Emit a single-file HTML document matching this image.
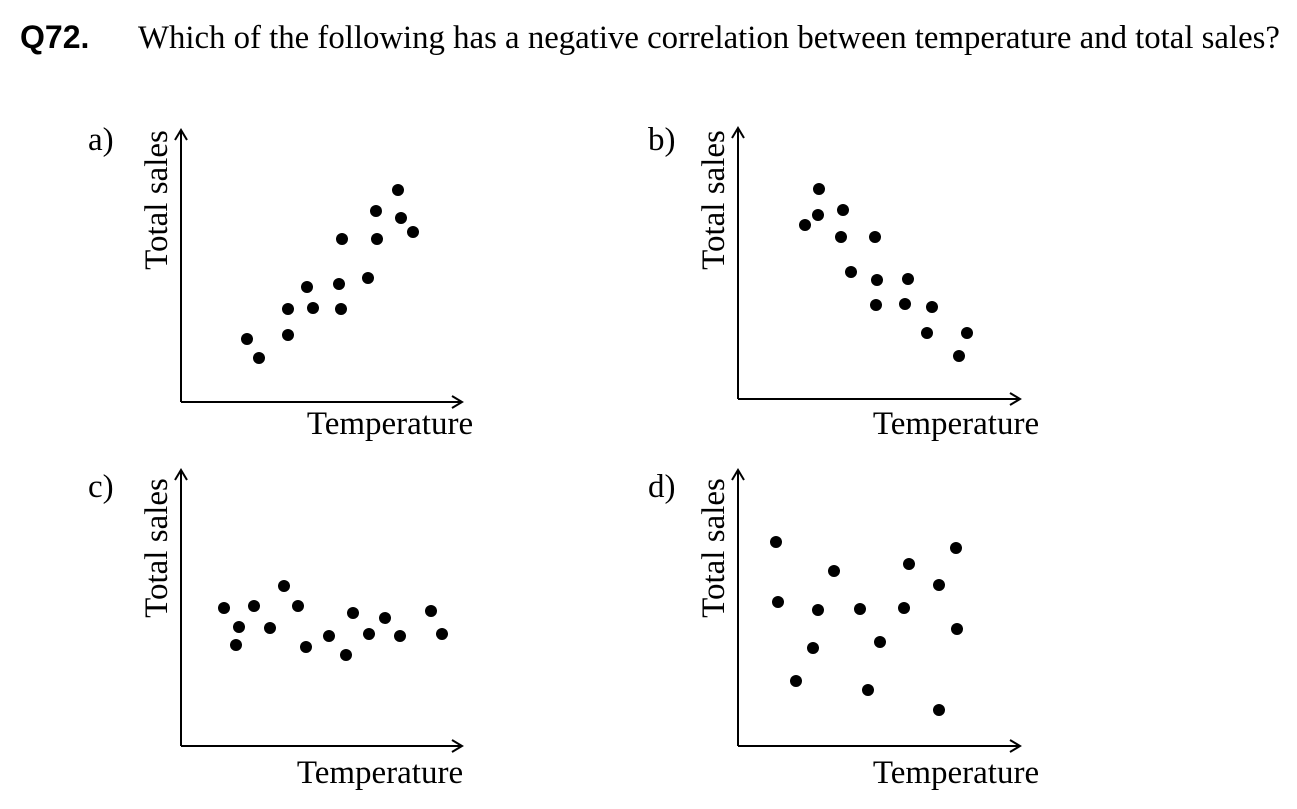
<!DOCTYPE html>
<html><head><style>
html,body{margin:0;padding:0;background:#fff;}
svg{display:block}
</style></head><body>
<svg width="1297" height="809" xmlns="http://www.w3.org/2000/svg">
<defs>
<marker id="ar" markerWidth="14" markerHeight="14" refX="12" refY="7" orient="auto" markerUnits="userSpaceOnUse">
<path d="M2,1 L12,7 L2,13" fill="none" stroke="#000" stroke-width="2"/>
</marker>
</defs>
<text x="20" y="48" font-family="Liberation Sans, sans-serif" font-weight="bold" font-size="32">Q72.</text>
<text x="138" y="48" font-family="Liberation Serif, serif" font-size="32.8">Which of the following has a negative correlation between temperature and total sales?</text>

<g font-family="Liberation Serif, serif" font-size="33" fill="#000">
<text x="88" y="150">a)</text>
<text transform="translate(167,200) rotate(-90)" text-anchor="middle">Total sales</text>
<text x="390" y="434" text-anchor="middle">Temperature</text>
<text x="648" y="150">b)</text>
<text transform="translate(724,200) rotate(-90)" text-anchor="middle">Total sales</text>
<text x="956" y="434" text-anchor="middle">Temperature</text>
<text x="88" y="497">c)</text>
<text transform="translate(167,548) rotate(-90)" text-anchor="middle">Total sales</text>
<text x="380" y="783" text-anchor="middle">Temperature</text>
<text x="648" y="497">d)</text>
<text transform="translate(724,548) rotate(-90)" text-anchor="middle">Total sales</text>
<text x="956" y="783" text-anchor="middle">Temperature</text>
</g>

<g stroke="#000" stroke-width="2" fill="none">
<path d="M181,402 L181,130" marker-end="url(#ar)"/><path d="M181,402 L462,402" marker-end="url(#ar)"/>
<path d="M738,399 L738,128" marker-end="url(#ar)"/><path d="M738,399 L1020,399" marker-end="url(#ar)"/>
<path d="M181,746 L181,470" marker-end="url(#ar)"/><path d="M181,746 L462,746" marker-end="url(#ar)"/>
<path d="M738,746 L738,470" marker-end="url(#ar)"/><path d="M738,746 L1020,746" marker-end="url(#ar)"/>
</g>

<g fill="#000">
<circle cx="247" cy="339" r="6"/><circle cx="259" cy="358" r="6"/><circle cx="288" cy="309" r="6"/><circle cx="288" cy="335" r="6"/><circle cx="307" cy="287" r="6"/><circle cx="313" cy="308" r="6"/><circle cx="339" cy="284" r="6"/><circle cx="341" cy="309" r="6"/><circle cx="342" cy="239" r="6"/><circle cx="368" cy="278" r="6"/><circle cx="376" cy="211" r="6"/><circle cx="377" cy="239" r="6"/><circle cx="398" cy="190" r="6"/><circle cx="401" cy="218" r="6"/><circle cx="413" cy="232" r="6"/>

<circle cx="819" cy="189" r="6"/><circle cx="805" cy="225" r="6"/><circle cx="818" cy="215" r="6"/><circle cx="843" cy="210" r="6"/><circle cx="841" cy="237" r="6"/><circle cx="875" cy="237" r="6"/><circle cx="851" cy="272" r="6"/><circle cx="877" cy="280" r="6"/><circle cx="908" cy="279" r="6"/><circle cx="876" cy="305" r="6"/><circle cx="905" cy="304" r="6"/><circle cx="932" cy="307" r="6"/><circle cx="927" cy="333" r="6"/><circle cx="967" cy="333" r="6"/><circle cx="959" cy="356" r="6"/>

<circle cx="224" cy="608" r="6"/><circle cx="239" cy="627" r="6"/><circle cx="236" cy="645" r="6"/><circle cx="254" cy="606" r="6"/><circle cx="270" cy="628" r="6"/><circle cx="284" cy="586" r="6"/><circle cx="298" cy="606" r="6"/><circle cx="306" cy="647" r="6"/><circle cx="329" cy="636" r="6"/><circle cx="346" cy="655" r="6"/><circle cx="353" cy="613" r="6"/><circle cx="369" cy="634" r="6"/><circle cx="385" cy="618" r="6"/><circle cx="400" cy="636" r="6"/><circle cx="431" cy="611" r="6"/><circle cx="442" cy="634" r="6"/>

<circle cx="776" cy="542" r="6"/><circle cx="778" cy="602" r="6"/><circle cx="796" cy="681" r="6"/><circle cx="813" cy="648" r="6"/><circle cx="818" cy="610" r="6"/><circle cx="834" cy="571" r="6"/><circle cx="860" cy="609" r="6"/><circle cx="868" cy="690" r="6"/><circle cx="880" cy="642" r="6"/><circle cx="904" cy="608" r="6"/><circle cx="909" cy="564" r="6"/><circle cx="939" cy="585" r="6"/><circle cx="939" cy="710" r="6"/><circle cx="956" cy="548" r="6"/><circle cx="957" cy="629" r="6"/>
</g>
</svg>
</body></html>
